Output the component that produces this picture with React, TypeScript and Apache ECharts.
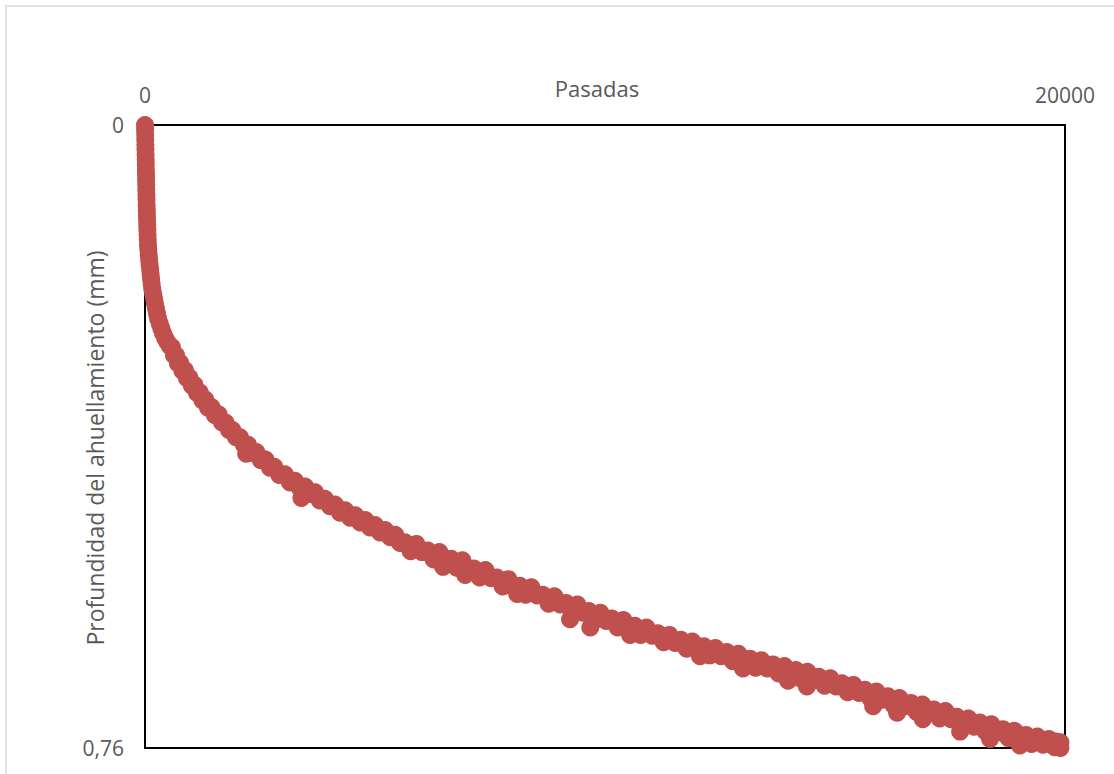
import React, { useEffect, useRef } from "react";
import * as echarts from "echarts";

// [Pasadas, Profundidad (mm)] — nearly vertical start
const pointsStart = [
  [0, 0], [2, 0.006], [4, 0.012], [6, 0.018], [8, 0.024], [10, 0.03], [13, 0.036], [15, 0.042], [17, 0.048],
  [20, 0.055], [22, 0.061], [24, 0.067], [27, 0.073], [29, 0.079], [31, 0.085], [33, 0.091], [36, 0.098],
  [39, 0.104], [42, 0.11], [45, 0.116], [48, 0.122], [52, 0.128], [56, 0.134], [60, 0.14], [65, 0.146],
  [72, 0.152], [80, 0.158], [90, 0.164], [100, 0.17], [112, 0.176], [122, 0.182], [133, 0.188], [144, 0.194],
  [158, 0.2], [178, 0.206], [198, 0.212], [218, 0.218], [240, 0.224], [262, 0.23], [285, 0.236], [320, 0.242],
  [355, 0.248], [392, 0.254], [440, 0.26], [490, 0.265], [543, 0.27],
];

// [Pasadas, Profundidad (mm)] — bend of the curve
const pointsBend = [
  [585, 0.271], [630, 0.281], [675, 0.281], [717, 0.291], [765, 0.29], [815, 0.3], [865, 0.299], [913, 0.309],
  [965, 0.308], [1020, 0.318], [1075, 0.317], [1130, 0.327], [1190, 0.326], [1250, 0.336], [1310, 0.335],
  [1370, 0.345], [1445, 0.344], [1520, 0.354], [1600, 0.353], [1674, 0.363], [1750, 0.363], [1825, 0.372],
  [1900, 0.372], [1978, 0.381], [2065, 0.381], [2150, 0.39], [2200, 0.401], [2240, 0.39], [2326, 0.4],
  [2420, 0.399], [2520, 0.409], [2620, 0.408], [2717, 0.418], [2810, 0.417], [2920, 0.427], [3040, 0.426],
  [3152, 0.436], [3260, 0.434], [3370, 0.443], [3400, 0.455], [3480, 0.441], [3590, 0.45], [3696, 0.448],
  [3800, 0.458], [3910, 0.456], [4020, 0.465], [4130, 0.463], [4239, 0.473], [4350, 0.47], [4460, 0.479],
  [4570, 0.476], [4680, 0.485], [4790, 0.482], [4891, 0.491], [5000, 0.488], [5110, 0.497], [5220, 0.494],
  [5330, 0.503], [5440, 0.5], [5544, 0.51],
];

// [Pasadas, Profundidad (mm)] — long, slowly rising part
const pointsTail = [
  [5650, 0.509], [5775, 0.52], [5900, 0.511], [6025, 0.521],
  [6150, 0.519], [6275, 0.53], [6400, 0.521], [6480, 0.539], [6525, 0.531],
  [6650, 0.529], [6775, 0.54], [6900, 0.531], [6960, 0.549], [7025, 0.541],
  [7150, 0.541], [7275, 0.552], [7400, 0.543], [7525, 0.553],
  [7650, 0.552], [7775, 0.563], [7900, 0.554], [8025, 0.564], [8090, 0.572],
  [8150, 0.562], [8275, 0.573], [8400, 0.564], [8525, 0.574],
  [8650, 0.573], [8775, 0.584], [8900, 0.575], [9025, 0.585],
  [9150, 0.583], [9240, 0.603], [9275, 0.594], [9400, 0.585], [9525, 0.595],
  [9650, 0.593], [9680, 0.613], [9775, 0.604], [9900, 0.595], [10025, 0.605],
  [10150, 0.602], [10275, 0.613], [10400, 0.604], [10525, 0.614], [10545, 0.622],
  [10650, 0.611], [10775, 0.622], [10900, 0.613], [11025, 0.623],
  [11150, 0.62], [11275, 0.631], [11400, 0.622], [11525, 0.632],
  [11650, 0.628], [11775, 0.639], [11900, 0.63], [12025, 0.64], [12065, 0.648],
  [12150, 0.636], [12275, 0.647], [12400, 0.638], [12525, 0.648],
  [12650, 0.643], [12775, 0.654], [12900, 0.645], [13000, 0.663], [13025, 0.655],
  [13150, 0.651], [13275, 0.662], [13400, 0.653], [13525, 0.663],
  [13650, 0.658], [13775, 0.669], [13900, 0.66], [13980, 0.678], [14025, 0.67],
  [14150, 0.665], [14275, 0.676], [14390, 0.685], [14400, 0.667], [14525, 0.677],
  [14650, 0.673], [14775, 0.684], [14900, 0.675], [15025, 0.685],
  [15150, 0.681], [15275, 0.692], [15400, 0.683], [15525, 0.693],
  [15650, 0.689], [15775, 0.7], [15830, 0.709], [15900, 0.691], [16025, 0.701],
  [16150, 0.697], [16275, 0.708], [16350, 0.717], [16400, 0.699], [16525, 0.709],
  [16650, 0.705], [16775, 0.716], [16900, 0.707], [16910, 0.725], [17025, 0.717],
  [17150, 0.713], [17275, 0.724], [17400, 0.715], [17525, 0.725],
  [17650, 0.722], [17720, 0.74], [17775, 0.733], [17900, 0.724], [18025, 0.734],
  [18150, 0.729], [18275, 0.74], [18370, 0.749], [18400, 0.731], [18525, 0.741],
  [18650, 0.737], [18775, 0.748], [18900, 0.739], [19020, 0.757], [19025, 0.749],
  [19150, 0.744], [19275, 0.755], [19400, 0.746], [19525, 0.756],
  [19650, 0.749], [19775, 0.759], [19800, 0.752], [19900, 0.753], [19900, 0.76],
];

const xRange = [0, 20000];
const yRange = [0, 0.76];

export default function App() {
  const ref = useRef<HTMLDivElement>(null);
  useEffect(() => {
    if (!ref.current) return;
    const chart = echarts.init(ref.current, null, { renderer: "svg" });
    const data = [...pointsStart, ...pointsBend, ...pointsTail];
    const font = "'Open Sans', 'Noto Sans', sans-serif";
    chart.setOption({
      animation: false,
      backgroundColor: "#ffffff",
      graphic: [
        {
          type: "rect",
          silent: true,
          shape: { x: 6, y: 6, width: 1112, height: 780 },
          style: { fill: "none", stroke: "#D9D9D9", lineWidth: 1.5 },
        },
        {
          type: "text",
          silent: true,
          x: 597,
          y: 88,
          style: {
            text: "Pasadas",
            fill: "#595959",
            font: `22px ${font}`,
            align: "center",
            verticalAlign: "middle",
          },
        },
        {
          type: "text",
          silent: true,
          x: 95,
          y: 448,
          rotation: Math.PI / 2,
          style: {
            text: "Profundidad del ahuellamiento (mm)",
            fill: "#595959",
            font: `23px ${font}`,
            align: "center",
            verticalAlign: "middle",
          },
        },
      ],
      grid: {
        left: 145,
        top: 125,
        width: 920,
        height: 623,
        show: true,
        borderColor: "#000000",
        borderWidth: 2,
        backgroundColor: "transparent",
        containLabel: false,
      },
      xAxis: {
        type: "value",
        position: "top",
        min: xRange[0],
        max: xRange[1],
        interval: 20000,
        axisLine: { show: true, onZero: false, lineStyle: { color: "#000", width: 2 } },
        axisTick: { show: false },
        splitLine: { show: false },
        axisLabel: {
          color: "#595959",
          fontSize: 21,
          fontFamily: font,
          margin: 20,
          formatter: (v: number) => String(v),
        },
      },
      yAxis: {
        type: "value",
        inverse: true,
        min: yRange[0],
        max: yRange[1],
        interval: 0.76,
        axisLine: { show: true, onZero: false, lineStyle: { color: "#000", width: 2 } },
        axisTick: { show: false },
        splitLine: { show: false },
        axisLabel: {
          color: "#595959",
          fontSize: 21,
          fontFamily: font,
          margin: 21,
          formatter: (v: number) => (v === 0 ? "0" : String(v).replace(".", ",")),
        },
      },
      series: [
        {
          type: "scatter",
          data,
          symbol: "circle",
          symbolSize: 18,
          itemStyle: { color: "#C0504D", opacity: 1 },
          clip: false,
        },
      ],
    });
    return () => chart.dispose();
  }, []);
  return (
    <div
      ref={ref}
      style={{ position: "fixed", left: 0, top: 0, width: 1114, height: 774, background: "#fff" }}
    />
  );
}
